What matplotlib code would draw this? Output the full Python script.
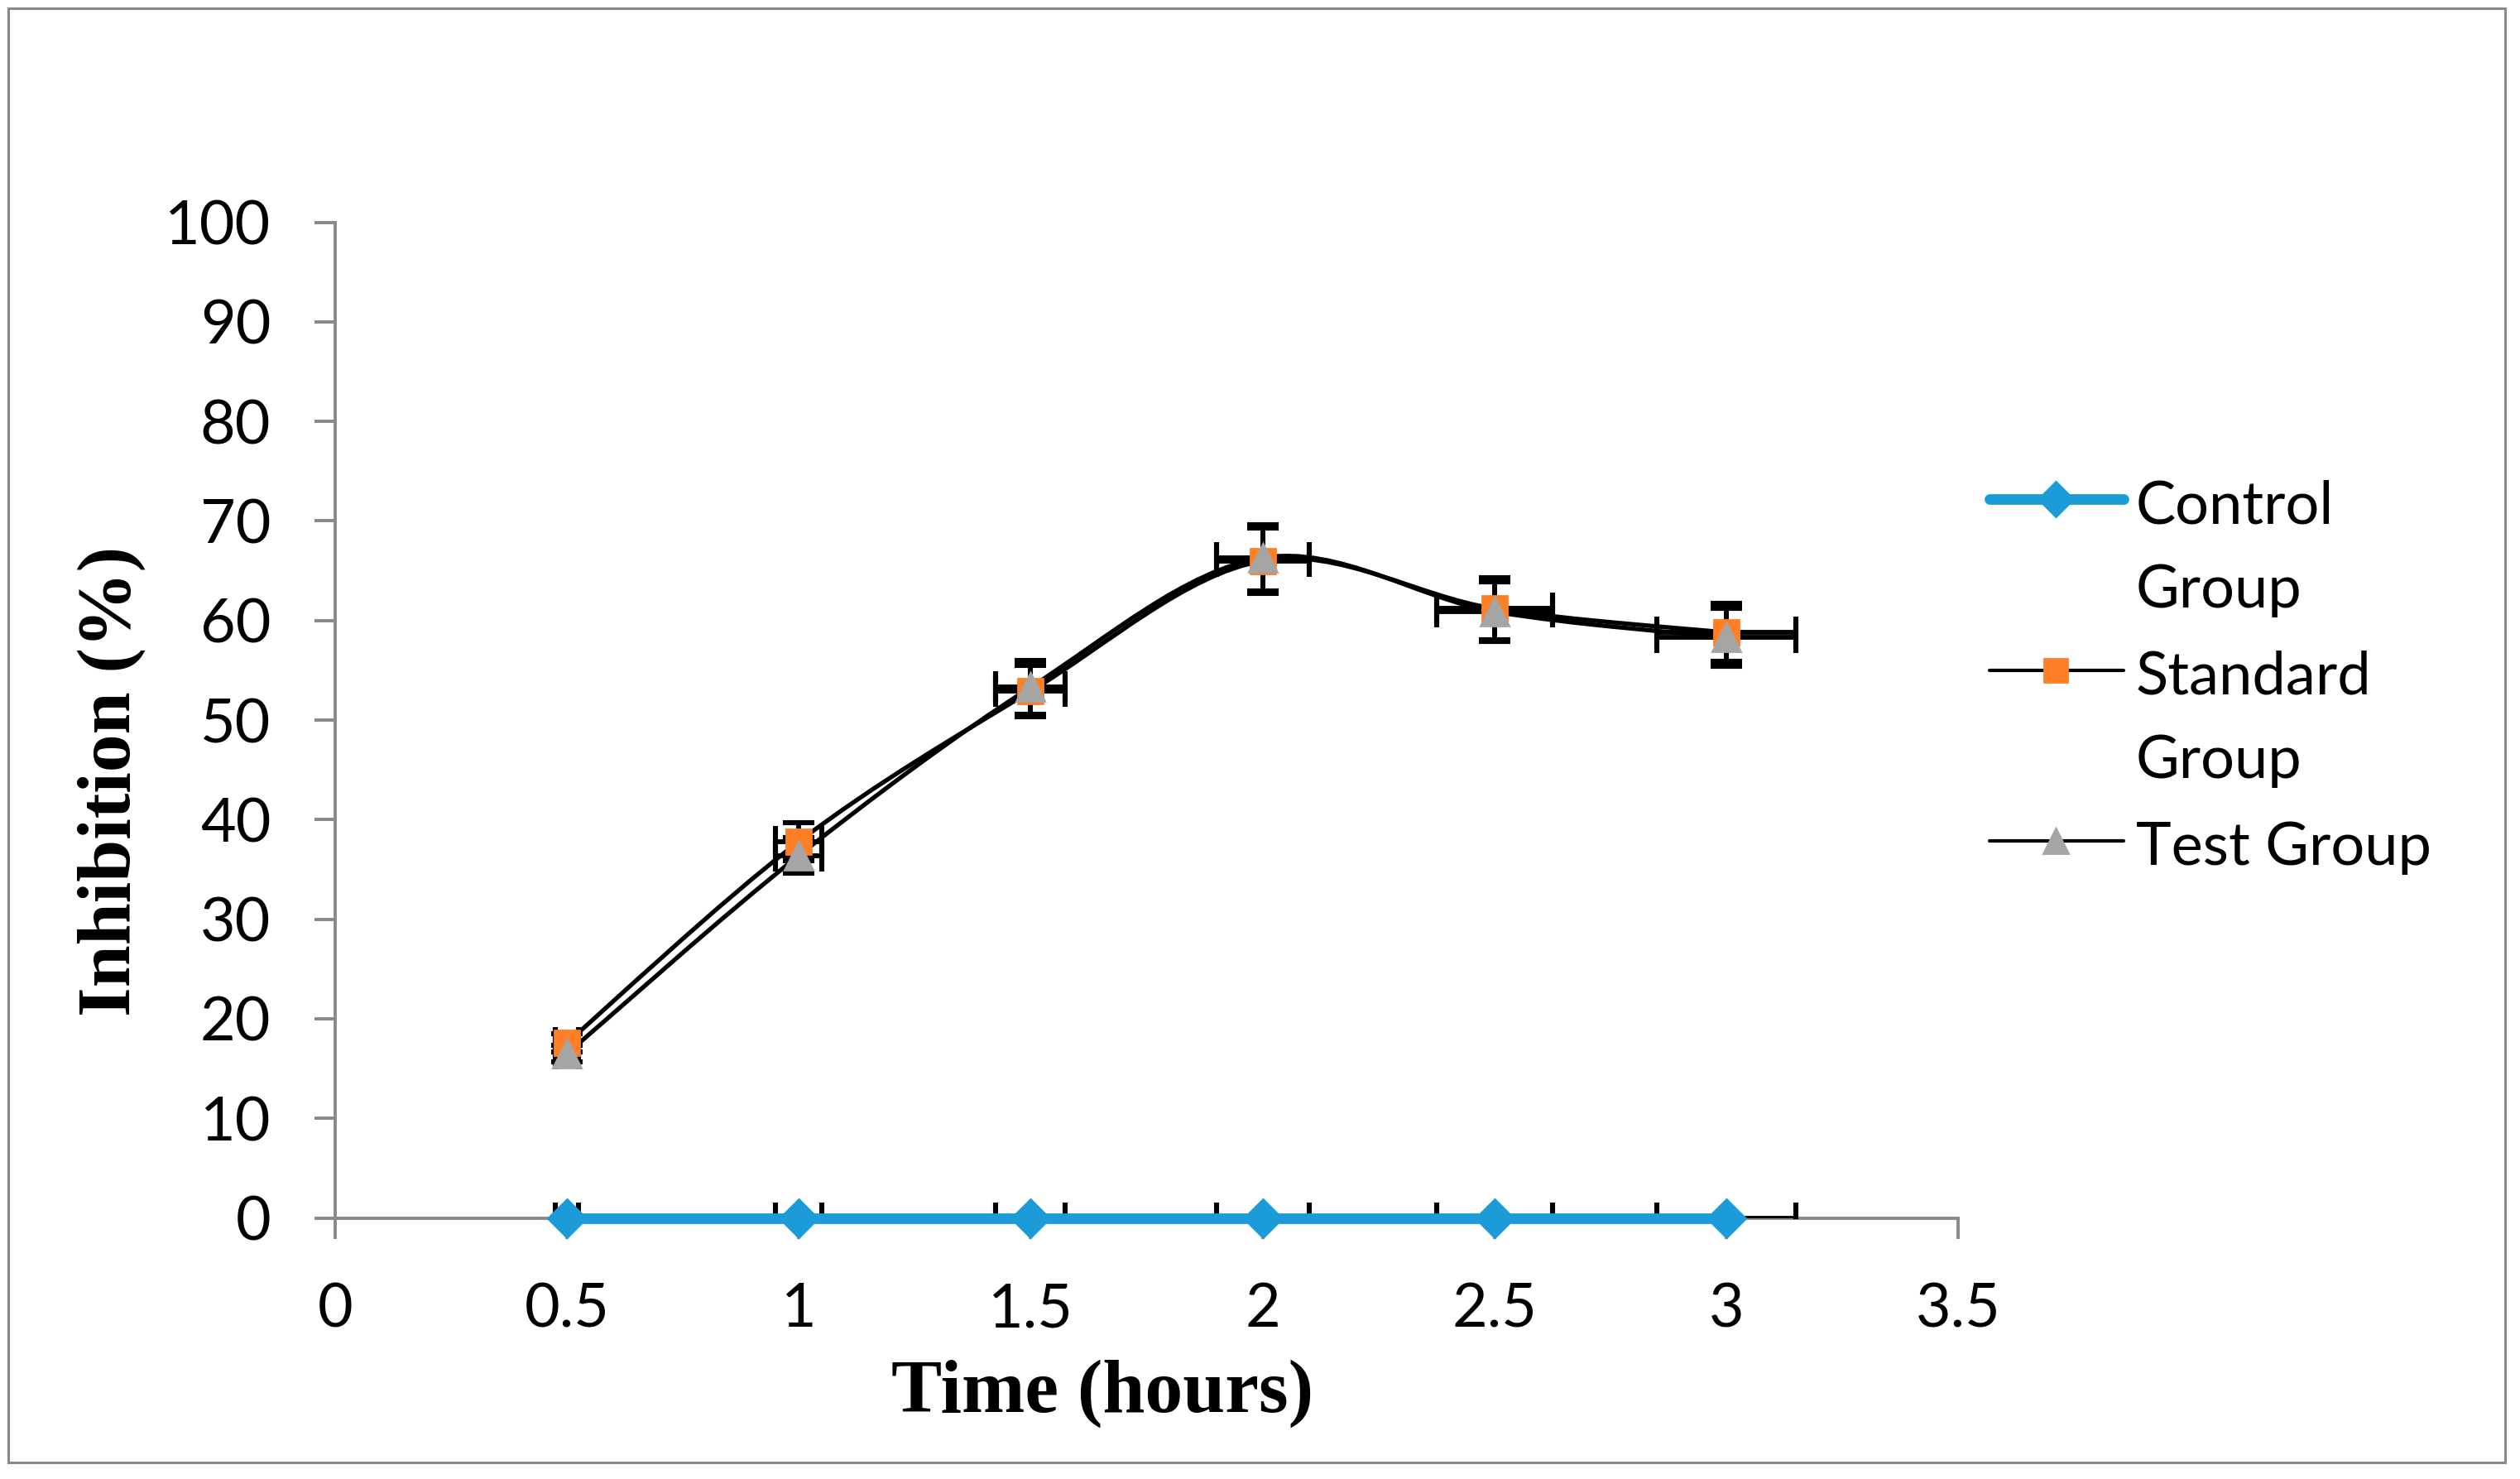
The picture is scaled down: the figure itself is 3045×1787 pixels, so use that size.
import numpy as np
import matplotlib
matplotlib.use("Agg")
import matplotlib.pyplot as plt
from matplotlib.path import Path
from matplotlib.patches import PathPatch, Rectangle
from matplotlib.lines import Line2D

# values
time_h = [0.5, 1.0, 1.5, 2.0, 2.5, 3.0]
control = [0, 0, 0, 0, 0, 0]
standard = [17.6, 37.8, 52.9, 66.0, 61.2, 58.8]
test = [16.5, 36.4, 53.3, 66.3, 60.9, 58.3]

# error bars (x and y)
time_err = [0.025, 0.05, 0.075, 0.10, 0.125, 0.15]
control_err = [0, 0, 0, 0, 0, 0]
standard_err = [0.9, 1.9, 2.6, 3.3, 3.1, 2.9]
test_err = [0.8, 1.8, 2.7, 3.3, 3.0, 2.9]

x_ticks = [0, 0.5, 1, 1.5, 2, 2.5, 3, 3.5]
x_tick_labels = ["0", "0.5", "1", "1.5", "2", "2.5", "3", "3.5"]
y_ticks = [0, 10, 20, 30, 40, 50, 60, 70, 80, 90, 100]
legend_labels = [["Control", "Group"], ["Standard", "Group"], ["Test Group"]]

BLUE = "#1B9CD8"
ORANGE = "#FF7F27"
MK_GREY = "#A5A5A5"
AX_GREY = "#898989"
TICK_FONT = "Lato"
LABEL_FONT = "Liberation Serif"


def smooth_path(xs, ys):
    """Excel-like smoothed line (Catmull-Rom as cubic Bezier)."""
    pts = np.column_stack([xs, ys]).astype(float)
    n = len(pts)
    verts = [pts[0]]
    codes = [Path.MOVETO]
    for i in range(n - 1):
        p0 = pts[max(i - 1, 0)]
        p1 = pts[i]
        p2 = pts[i + 1]
        p3 = pts[min(i + 2, n - 1)]
        verts += [p1 + (p2 - p0) / 6, p2 - (p3 - p1) / 6, p2]
        codes += [Path.CURVE4] * 3
    return Path(verts, codes)


fig = plt.figure(figsize=(15.225, 8.935), dpi=200)
ax = fig.add_axes([0.133, 0.1765, 0.644, 0.6732])

# standard / test series
for vals, errs in [(standard, standard_err), (test, test_err)]:
    ax.errorbar(time_h, vals, xerr=time_err, yerr=errs, fmt="none",
                ecolor="black", elinewidth=2.1, capsize=7, capthick=2.2, zorder=3)
    ax.add_patch(PathPatch(smooth_path(time_h, vals), fill=False,
                           edgecolor="black", lw=1.9, zorder=2))
ax.plot(time_h, standard, linestyle="none", marker="s", ms=11,
        color=ORANGE, zorder=5)
ax.plot(time_h, test, linestyle="none", marker="^", ms=12,
        color=MK_GREY, zorder=6)

# control series
ax.errorbar(time_h, control, xerr=time_err, yerr=control_err, fmt="none",
            ecolor="black", elinewidth=2.1, capsize=7, capthick=2.2, zorder=3)
ax.plot(time_h, control, color=BLUE, lw=4.6, marker="D", ms=11.5,
        zorder=7, clip_on=False)

ax.set_xlim(0, 3.5)
ax.set_ylim(0, 100)
ax.set_xticks(x_ticks)
ax.set_xticklabels(x_tick_labels)
ax.set_yticks(y_ticks)
for side in ["top", "right"]:
    ax.spines[side].set_visible(False)
for side in ["left", "bottom"]:
    ax.spines[side].set_color(AX_GREY)
    ax.spines[side].set_linewidth(1.4)
ax.tick_params(axis="both", direction="out", length=9, width=1.4,
               color=AX_GREY, labelcolor="black", pad=19, labelsize=26.5)
for lab in ax.get_xticklabels() + ax.get_yticklabels():
    lab.set_fontfamily(TICK_FONT)

# axis titles
fig.text(0.4373, 0.0577, "Time (hours)", ha="center", va="center",
         fontsize=33, fontweight="bold", family=LABEL_FONT)
fig.text(0.0441, 0.4717, "Inhibition (%)", ha="center", va="center",
         rotation=90, fontsize=33, fontweight="bold", family=LABEL_FONT)

# legend, drawn by hand so the handle sits on the first text line
legend_styles = [
    dict(color=BLUE, lw=4.6, marker="D", ms=10.5, mfc=BLUE, mec=BLUE),
    dict(color="black", lw=1.5, marker="s", ms=10, mfc=ORANGE, mec=ORANGE),
    dict(color="black", lw=1.5, marker="^", ms=11, mfc=MK_GREY, mec=MK_GREY),
]
for i, (lines, st) in enumerate(zip(legend_labels, legend_styles)):
    y = 0.6623 - i * 0.1155
    fig.add_artist(Line2D([0.7896, 0.8427], [y, y], transform=fig.transFigure,
                          color=st["color"], lw=st["lw"], solid_capstyle="round"))
    fig.add_artist(Line2D([0.8159], [y], transform=fig.transFigure,
                          linestyle="none", marker=st["marker"], ms=st["ms"],
                          mfc=st["mfc"], mec=st["mec"]))
    for j, txt in enumerate(lines):
        fig.text(0.8475, y - 0.0163 - j * 0.0566, txt, ha="left", va="baseline",
                 fontsize=26, family=TICK_FONT)

# outer frame
fig.add_artist(Rectangle((0.0033, 0.0112), 0.9907, 0.9832, transform=fig.transFigure,
                         fill=False, edgecolor=AX_GREY, lw=1.1))

fig.savefig("out.png", dpi=200, facecolor="white")
